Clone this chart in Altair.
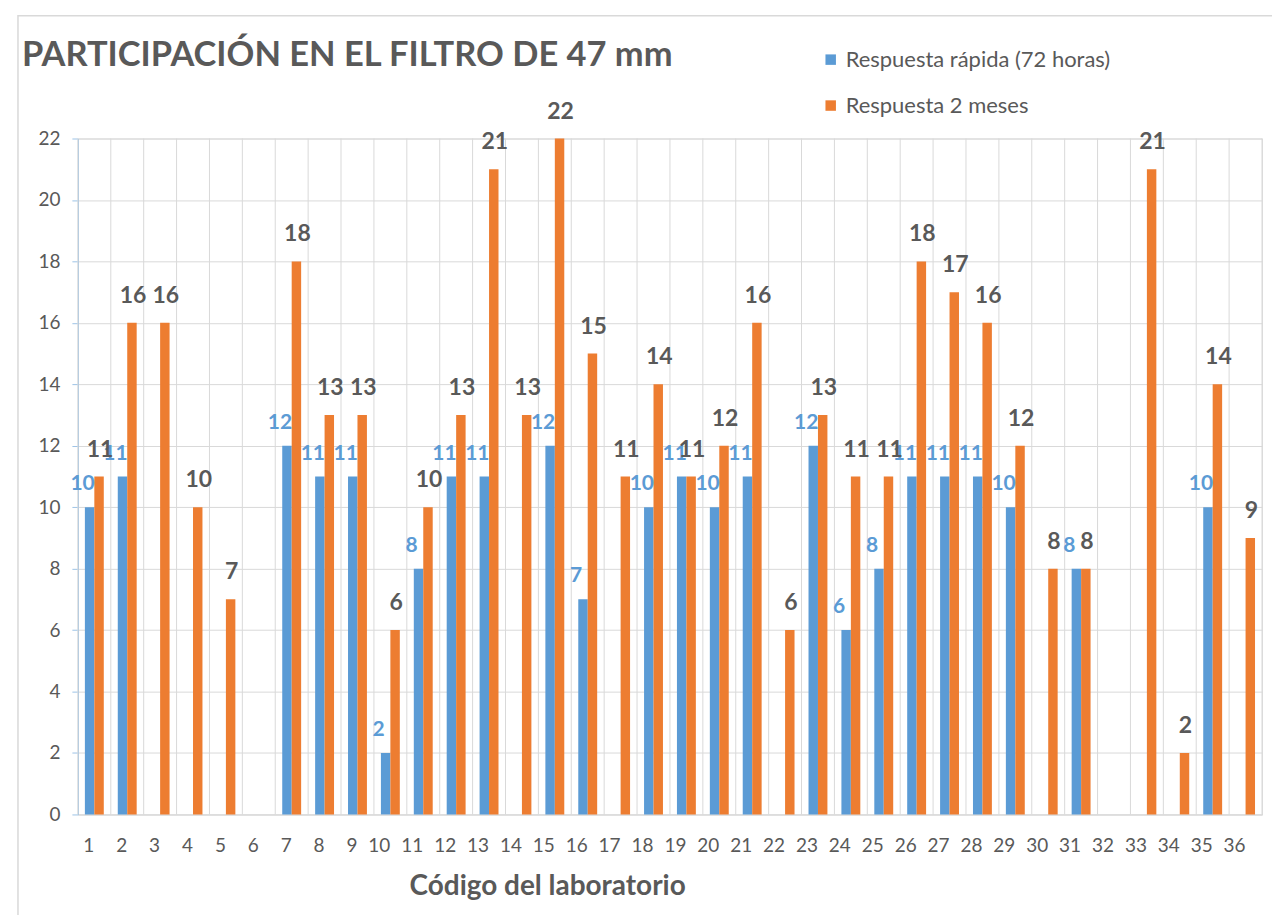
import altair as alt
import pandas as pd

labs = list(range(1, 37))
rapida = [10, 11, None, None, None, None, 12, 11, 11, 2, 8, 11, 11, None, 12, 7, None, 10,
          11, 10, 11, None, 12, 6, 8, 11, 11, 11, 10, None, 8, None, None, None, 10, None]
meses = [11, 16, 16, 10, 7, None, 18, 13, 13, 6, 10, 13, 21, 13, 22, 15, 11, 14,
         11, 12, 16, 6, 13, 11, 11, 18, 17, 16, 12, 8, 8, None, 21, 2, 14, 9]
series_names = ["Respuesta rápida (72 horas)", "Respuesta 2 meses"]
y_ticks = list(range(0, 23, 2))
title_text = "PARTICIPACIÓN EN EL FILTRO DE 47 mm"

rows = []
for lab, a, b in zip(labs, rapida, meses):
    if a is not None:
        rows.append({"lab": lab, "serie": series_names[0], "value": a})
    if b is not None:
        rows.append({"lab": lab, "serie": series_names[1], "value": b})
df = pd.DataFrame(rows)
grid_df = pd.DataFrame({"lab": labs})
one_df = pd.DataFrame({"t": [title_text]})

W, H = 1186, 677
FONT = "Lato"
GRAY = "#595959"
BLUE = "#5B9BD5"
ORANGE = "#ED7D31"

x_enc = alt.X("lab:O", sort=labs,
              scale=alt.Scale(paddingInner=0, paddingOuter=0),
              axis=alt.Axis(title="Código del laboratorio", labelAngle=0, grid=False,
                            ticks=False, domainColor="#D9D9D9", labelFontSize=19,
                            labelColor=GRAY, labelFont=FONT, labelPadding=31,
                            titleFontSize=28, titleFont=FONT, titleColor=GRAY,
                            titleFontWeight="bold", titleX=470, titleY=86,
                            titleBaseline="bottom"))
xoff = alt.XOffset("serie:N", sort=series_names,
                   scale=alt.Scale(paddingInner=0, paddingOuter=0.74))
y_enc = alt.Y("value:Q",
              scale=alt.Scale(domain=[0, 22], nice=False),
              axis=alt.Axis(title=None, values=y_ticks, gridColor="#D9D9D9",
                            domainColor="#9DC3E6", tickColor="#9DC3E6", tickSize=6,
                            labelFontSize=19, labelColor=GRAY, labelFont=FONT,
                            labelPadding=12))

vgrid = alt.Chart(grid_df).mark_rule(color="#D9D9D9", strokeWidth=1).encode(
    x=alt.X("lab:O", sort=labs, bandPosition=0)
)
vgrid_end = alt.Chart(one_df).mark_rule(color="#D9D9D9", strokeWidth=1).encode(
    x=alt.value(W)
)

bars = alt.Chart(df).mark_bar().encode(
    x=x_enc,
    xOffset=xoff,
    y=y_enc,
    color=alt.Color("serie:N", sort=series_names,
                    scale=alt.Scale(domain=series_names, range=[BLUE, ORANGE]),
                    legend=alt.Legend(title=None, orient="none", legendX=743, legendY=-90,
                                      symbolType="square", symbolSize=110,
                                      labelFontSize=22, labelColor=GRAY, labelFont=FONT,
                                      labelLimit=400, rowPadding=24,
                                      symbolStrokeWidth=0))
)

txt_blue = alt.Chart(df).transform_filter(
    alt.datum.serie == series_names[0]
).mark_text(color=BLUE, fontWeight="bold", fontSize=21, font=FONT,
            baseline="bottom", align="center", dx=-7, dy=-13).encode(
    x=alt.X("lab:O", sort=labs), xOffset=xoff, y="value:Q", text="value:Q"
)

txt_orange = alt.Chart(df).transform_filter(
    alt.datum.serie == series_names[1]
).mark_text(color=GRAY, fontWeight="bold", fontSize=23, font=FONT,
            baseline="bottom", align="center", dx=1, dy=-15).encode(
    x=alt.X("lab:O", sort=labs), xOffset=xoff, y="value:Q", text="value:Q"
)

title_mark = alt.Chart(one_df).mark_text(
    color=GRAY, fontWeight="bold", fontSize=34.5, font=FONT, align="left", baseline="middle"
).encode(x=alt.value(-56), y=alt.value(-83), text="t:N")

frame = alt.Chart(one_df).mark_rect(fill=None, stroke="#D9D9D9", strokeWidth=1.5).encode(
    x=alt.value(-60), x2=alt.value(W + 40), y=alt.value(-123), y2=alt.value(H + 120)
)

chart = alt.layer(vgrid, vgrid_end, bars, txt_blue, txt_orange, title_mark, frame).properties(
    width=W, height=H,
    padding={"left": 70, "top": 130, "right": 10, "bottom": 100},
    autosize=alt.AutoSizeParams(type="none"),
).configure_view(stroke=None).configure(background="white")

chart.save("out.html", embed_options={"renderer": "svg", "actions": False})
